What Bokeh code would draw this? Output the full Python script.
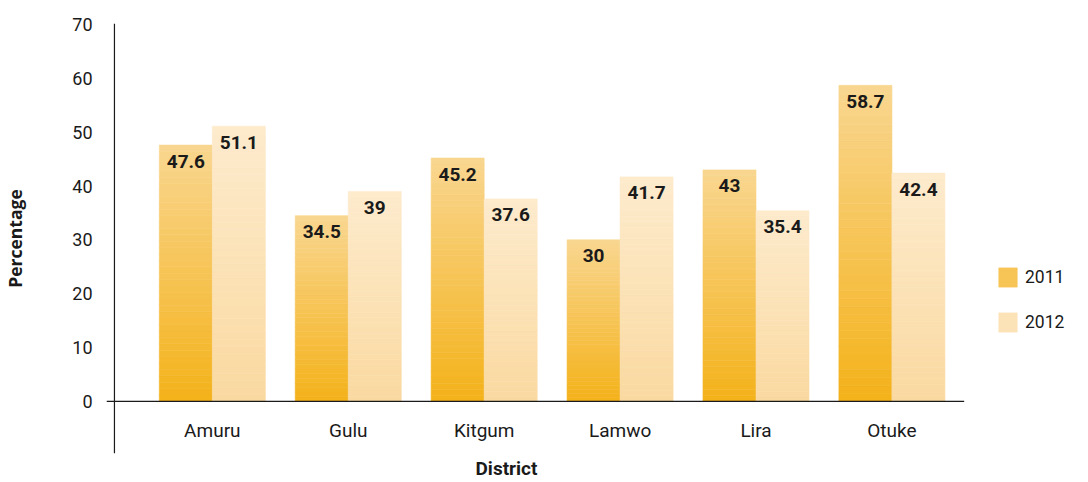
import numpy as np
from bokeh.plotting import figure
from bokeh.models import (Range1d, FixedTicker, Span, Title, Legend, LegendItem,
                          ColumnDataSource)
from bokeh.core.properties import value
from bokeh.embed import file_html
from bokeh.resources import INLINE

# ---------------- data ----------------
districts = ["Amuru", "Gulu", "Kitgum", "Lamwo", "Lira", "Otuke"]
years = ["2011", "2012"]
values_2011 = [47.6, 34.5, 45.2, 30, 43, 58.7]
values_2012 = [51.1, 39, 37.6, 41.7, 35.4, 42.4]
y_ticks = [0, 10, 20, 30, 40, 50, 60, 70]

# ---------------- styles ----------------
FONT = "Roboto"
TXT = "#1a1a1a"
grad = {
    "2011": ("#F4B21A", "#F9D690"),   # bottom, top
    "2012": ("#FAD9A0", "#FDEBCD"),
}
offset = {"2011": -0.195, "2012": 0.195}
BAR_W = 0.39
N_SLICES = 40
X_LO, X_HI = -0.7787, 6.3286          # visible x extent (category units)
AXIS_X = -0.7202                      # where the value axis line sits
AXIS_END = len(districts) - 0.5 + 0.0316


def hex2rgb(h):
    h = h.lstrip("#")
    return np.array([int(h[i:i + 2], 16) for i in (0, 2, 4)], dtype=float)


def mix(c0, c1, t):
    c = hex2rgb(c0) * (1 - t) + hex2rgb(c1) * t
    return "#%02x%02x%02x" % tuple(int(round(v)) for v in c)


x_idx = np.arange(len(districts))

p = figure(width=1072, height=480,
           x_range=Range1d(X_LO, X_HI), y_range=Range1d(-9.68, 70.19),
           output_backend="svg", toolbar_location=None, x_axis_location=None,
           min_border_left=100, min_border_right=0, min_border_top=23,
           min_border_bottom=24)
p.grid.visible = False
p.outline_line_color = None
p.background_fill_color = "white"

renderers = {}
for yr, vals in zip(years, [values_2011, values_2012]):
    xs, bots, tops, cols = [], [], [], []
    for i, v in zip(x_idx, vals):
        for k in range(N_SLICES):
            xs.append(i + offset[yr])
            bots.append(v * k / N_SLICES)
            tops.append(v * (k + 1) / N_SLICES)
            cols.append(mix(grad[yr][0], grad[yr][1], (k + 0.5) / N_SLICES))
    src = ColumnDataSource(dict(x=xs, bottom=bots, top=tops, color=cols))
    renderers[yr] = p.vbar(x="x", bottom="bottom", top="top", width=BAR_W,
                           fill_color="color", line_color="color",
                           line_width=0.6, source=src)
    lab = ColumnDataSource(dict(x=list(x_idx + offset[yr]), y=vals,
                                t=[f"{v:g}" for v in vals]))
    p.text(x="x", y="y", text="t", source=lab, text_align="center",
           text_baseline="alphabetic", y_offset=16, text_font=value(FONT),
           text_font_style="bold", text_font_size="19px", text_color=TXT)

# category labels under the zero line
cat = ColumnDataSource(dict(x=list(x_idx), y=[0] * len(districts), t=districts))
p.text(x="x", y="y", text="t", source=cat, text_align="center",
       text_baseline="alphabetic", y_offset=29, text_font=value(FONT),
       text_font_size="19px", text_color=TXT)

# axis lines
p.segment(x0=[X_LO], y0=[0], x1=[AXIS_END], y1=[0], line_color=TXT,
          line_width=1.2)
p.add_layout(Span(location=AXIS_X, dimension="height", line_color=TXT,
                  line_width=1.2))

ya = p.yaxis[0]
ya.ticker = FixedTicker(ticks=y_ticks)
ya.axis_line_color = None
ya.major_tick_line_color = None
ya.minor_tick_line_color = None
ya.major_label_standoff = 8
ya.major_label_text_font = FONT
ya.major_label_text_font_size = "18px"
ya.major_label_text_color = TXT
ya.axis_label = "Percentage"
ya.axis_label_text_font = "Open Sans"
ya.axis_label_text_font_style = "bold"
ya.axis_label_text_font_size = "17.5px"
ya.axis_label_text_color = TXT
ya.axis_label_standoff = 42

p.add_layout(Title(text="District", align="left", offset=369, standoff=2,
                   text_font=FONT, text_font_style="bold",
                   text_font_size="19px", text_color=TXT), "below")

legend = Legend(items=[LegendItem(label=yr, renderers=[renderers[yr]],
                                  index=N_SLICES // 2) for yr in years],
                location=(890, 119), orientation="vertical",
                glyph_width=23, glyph_height=24, label_standoff=6, spacing=21,
                padding=0, margin=0, border_line_color=None,
                background_fill_alpha=0, label_text_font=FONT,
                label_text_font_size="17.5px", label_text_color=TXT)
p.add_layout(legend, "center")

open("out.html", "w").write(file_html(p, INLINE))
